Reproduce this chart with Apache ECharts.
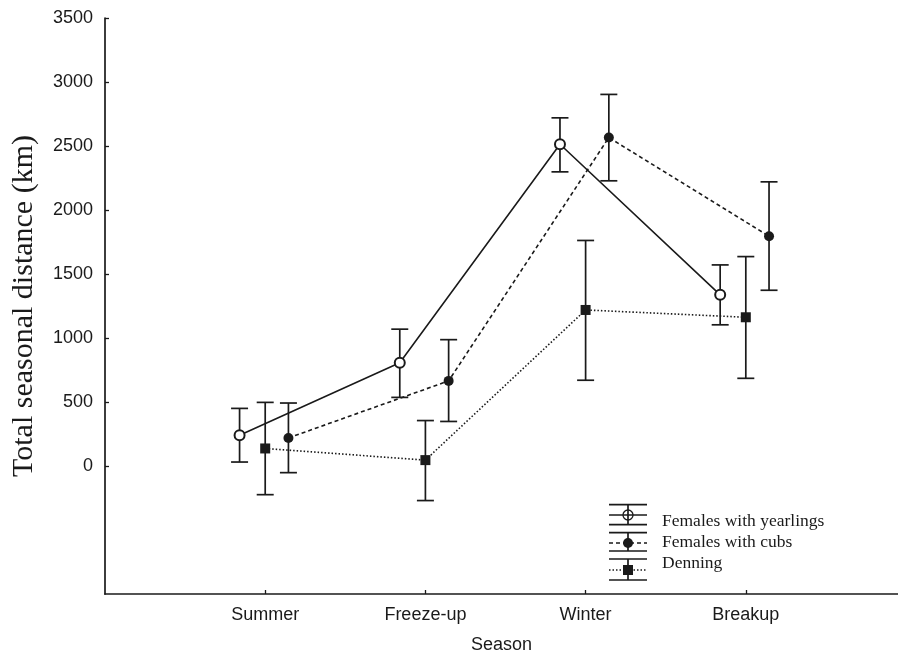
<!DOCTYPE html>
<html>
<head>
<meta charset="utf-8">
<script src="https://cdn.jsdelivr.net/npm/echarts@6/dist/echarts.min.js"></script>
<style>
html,body{margin:0;padding:0;background:#fff;}
#chart{width:898px;height:659px;}
</style>
</head>
<body>
<div id="chart"></div>
<script>
// ---- data ----
const seasons = ['Summer', 'Freeze-up', 'Winter', 'Breakup'];
const yTickValues = [0, 500, 1000, 1500, 2000, 2500, 3000, 3500];

const yearlingsMean = [240, 806, 2514, 1337];
const yearlingsLow  = [31, 536, 2298, 1103];
const yearlingsHigh = [450, 1069, 2720, 1571];

const cubsMean = [219, 665, 2566, 1795];
const cubsLow  = [-52, 348, 2228, 1373];
const cubsHigh = [492, 987, 2903, 2220];

const denningMean = [137, 46, 1219, 1162];
const denningLow  = [-224, -270, 670, 685];
const denningHigh = [497, 355, 1762, 1636];

const legendNames = ['Females with yearlings', 'Females with cubs', 'Denning'];

// ---- rendering ----
const INK = '#1a1a1a';
const OFF = { yearlings: -0.16, cubs: 0.145, denning: 0 };

function pts(mean, off) { return mean.map((v, i) => [i + 1 + off, v]); }
function bars(lo, hi, off) { return lo.map((v, i) => [i + 1 + off, v, hi[i]]); }

function renderErr(params, api) {
  const x = api.value(0), lo = api.value(1), hi = api.value(2);
  const a = api.coord([x, lo]), b = api.coord([x, hi]);
  const w = 8.5;
  const st = { stroke: INK, lineWidth: 1.7 };
  return {
    type: 'group',
    children: [
      { type: 'line', shape: { x1: a[0], y1: a[1], x2: b[0], y2: b[1] }, style: st },
      { type: 'line', shape: { x1: a[0] - w, y1: a[1], x2: a[0] + w, y2: a[1] }, style: st },
      { type: 'line', shape: { x1: b[0] - w, y1: b[1], x2: b[0] + w, y2: b[1] }, style: st }
    ]
  };
}

function errSeries(lo, hi, off) {
  return {
    type: 'custom', renderItem: renderErr, data: bars(lo, hi, off),
    encode: { x: 0, y: [1, 2] }, z: 2, silent: true
  };
}

// legend glyphs
const LX1 = 609, LX2 = 647, LXC = 628;
function legendGlyph(capTop, mid, capBot, dash, symbol) {
  const st = { stroke: INK, lineWidth: 1.7 };
  const els = [
    { type: 'line', shape: { x1: LX1, y1: capTop, x2: LX2, y2: capTop }, style: st },
    { type: 'line', shape: { x1: LX1, y1: capBot, x2: LX2, y2: capBot }, style: st },
    { type: 'line', shape: { x1: LXC, y1: capTop, x2: LXC, y2: capBot }, style: st },
    { type: 'line', shape: { x1: LX1, y1: mid, x2: LX2, y2: mid }, style: { stroke: INK, lineWidth: 1.4, lineDash: dash } }
  ];
  if (symbol === 'open') els.push({ type: 'circle', shape: { cx: LXC, cy: mid, r: 5 }, style: { fill: 'rgba(0,0,0,0)', stroke: INK, lineWidth: 1.3 } });
  if (symbol === 'filled') els.push({ type: 'circle', shape: { cx: LXC, cy: mid, r: 5 }, style: { fill: INK } });
  if (symbol === 'square') els.push({ type: 'rect', shape: { x: LXC - 5, y: mid - 5, width: 10, height: 10 }, style: { fill: INK } });
  return els;
}
const legendTextY = [521, 542, 563];
const graphics = [].concat(
  legendGlyph(504.7, 515, 524.7, null, 'open'),
  legendGlyph(532.7, 543, 551, [4, 3], 'filled'),
  legendGlyph(559, 570, 580, [1.5, 2], 'square'),
  legendNames.map((n, i) => ({
    type: 'text', x: 662, y: legendTextY[i],
    style: { text: n, font: '17.5px "Liberation Serif", "Times New Roman", serif', fill: INK, verticalAlign: 'middle', align: 'left' }
  }))
);

const chart = echarts.init(document.getElementById('chart'), null, { renderer: 'canvas' });
chart.setOption({
  animation: false,
  backgroundColor: '#fff',
  grid: { left: 105, right: 0, top: 18, bottom: 58, containLabel: false },
  xAxis: {
    type: 'value', min: 0, max: 4.95, interval: 1,
    name: 'Season', nameLocation: 'middle', nameGap: 42,
    nameTextStyle: { fontFamily: '"Liberation Sans", Arial, sans-serif', fontSize: 18, color: INK },
    axisLine: { onZero: false, lineStyle: { color: INK, width: 1.7 } },
    axisTick: { inside: true, length: 4, lineStyle: { color: INK, width: 1.3 }, customValues: [1, 2, 3, 4] },
    axisLabel: {
      customValues: [1, 2, 3, 4], margin: 12,
      fontFamily: '"Liberation Sans", Arial, sans-serif', fontSize: 18, color: INK,
      formatter: v => seasons[Math.round(v) - 1] || ''
    },
    splitLine: { show: false }
  },
  yAxis: {
    type: 'value', min: -1000, max: 3500, interval: 500,
    name: 'Total seasonal distance (km)', nameLocation: 'middle', nameGap: 66,
    nameTextStyle: { fontFamily: '"Liberation Serif", "Times New Roman", serif', fontSize: 30, color: INK },
    axisLine: { show: true, onZero: false, lineStyle: { color: INK, width: 1.7 } },
    axisTick: { show: true, inside: true, length: 4, lineStyle: { color: INK, width: 1.3 }, customValues: yTickValues },
    axisLabel: {
      customValues: yTickValues, margin: 12,
      fontFamily: '"Liberation Sans", Arial, sans-serif', fontSize: 18, color: INK,
      formatter: v => String(v)
    },
    splitLine: { show: false }
  },
  series: [
    errSeries(yearlingsLow, yearlingsHigh, OFF.yearlings),
    errSeries(cubsLow, cubsHigh, OFF.cubs),
    errSeries(denningLow, denningHigh, OFF.denning),
    {
      name: legendNames[0], type: 'line', data: pts(yearlingsMean, OFF.yearlings), z: 3,
      symbol: 'emptyCircle', symbolSize: 10,
      lineStyle: { color: INK, width: 1.6, type: 'solid' },
      itemStyle: { color: INK, borderWidth: 1.3 }
    },
    {
      name: legendNames[1], type: 'line', data: pts(cubsMean, OFF.cubs), z: 3,
      symbol: 'circle', symbolSize: 10,
      lineStyle: { color: INK, width: 1.6, type: [4, 3] },
      itemStyle: { color: INK }
    },
    {
      name: legendNames[2], type: 'line', data: pts(denningMean, OFF.denning), z: 3,
      symbol: 'rect', symbolSize: 10,
      lineStyle: { color: INK, width: 1.6, type: [1.5, 2] },
      itemStyle: { color: INK }
    }
  ],
  graphic: graphics
});
</script>
</body>
</html>
